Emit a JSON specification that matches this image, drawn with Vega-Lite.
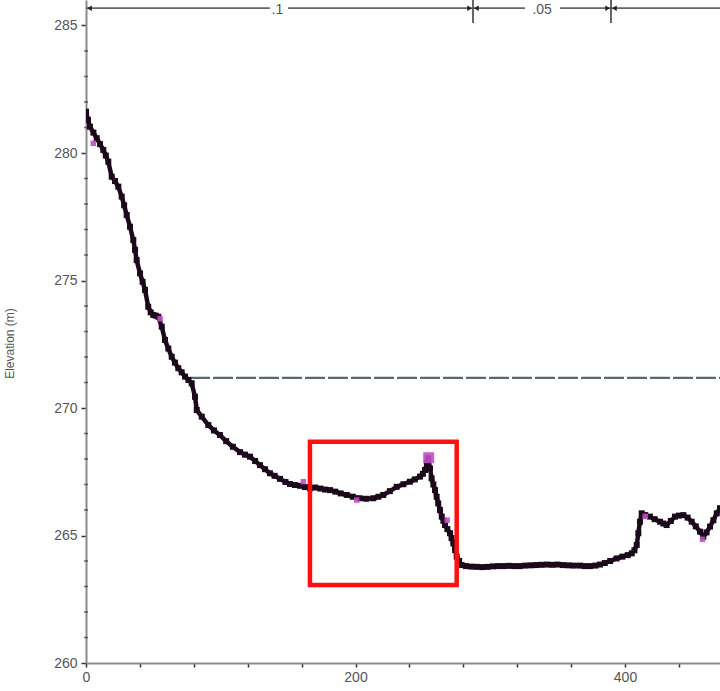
{
  "$schema": "https://vega.github.io/schema/vega-lite/v6.json",
  "width": 634,
  "height": 663,
  "autosize": {"type": "none"},
  "padding": {"left": 86, "top": 0, "right": 0, "bottom": 28},
  "background": "white",
  "config": {
    "view": {"stroke": null},
    "font": "Liberation Sans",
    "axis": {
      "grid": false,
      "domainColor": "#8c8c8c",
      "domainWidth": 2,
      "tickColor": "#333333",
      "tickWidth": 1.5,
      "labelColor": "#555555",
      "labelFont": "Liberation Sans",
      "labelFontSize": 14,
      "labelOverlap": false,
      "titleFont": "Liberation Sans",
      "titleColor": "#555555",
      "titleFontWeight": "normal"
    }
  },
  "datasets": {
    "profile": [
      {"dist": 0, "elev": 281.62}, {"dist": 1.5, "elev": 281.3}, {"dist": 2.97, "elev": 281.03}, {"dist": 5.5, "elev": 280.8},
      {"dist": 7.94, "elev": 280.58}, {"dist": 10.4, "elev": 280.35}, {"dist": 12.84, "elev": 280.12}, {"dist": 14.7, "elev": 279.9},
      {"dist": 16.55, "elev": 279.66}, {"dist": 19.07, "elev": 279.07}, {"dist": 21.5, "elev": 278.9}, {"dist": 23.97, "elev": 278.68},
      {"dist": 26.49, "elev": 278.29}, {"dist": 28.3, "elev": 277.95}, {"dist": 30.2, "elev": 277.57}, {"dist": 32.65, "elev": 277.11},
      {"dist": 35.1, "elev": 276.59}, {"dist": 36.4, "elev": 276.2}, {"dist": 37.6, "elev": 275.8}, {"dist": 40.1, "elev": 275.28},
      {"dist": 42, "elev": 274.95}, {"dist": 43.8, "elev": 274.63}, {"dist": 46.2, "elev": 273.97}, {"dist": 48, "elev": 273.75},
      {"dist": 49.9, "elev": 273.65}, {"dist": 51.8, "elev": 273.62}, {"dist": 53.7, "elev": 273.58}, {"dist": 56.2, "elev": 273.19},
      {"dist": 58.6, "elev": 272.67}, {"dist": 61.1, "elev": 272.33}, {"dist": 63.6, "elev": 272.01}, {"dist": 66, "elev": 271.78},
      {"dist": 68.5, "elev": 271.56}, {"dist": 71, "elev": 271.4}, {"dist": 73.5, "elev": 271.23}, {"dist": 76, "elev": 271.1},
      {"dist": 78.4, "elev": 270.97}, {"dist": 80.9, "elev": 270.44}, {"dist": 82.2, "elev": 269.92}, {"dist": 85.9, "elev": 269.66},
      {"dist": 90.8, "elev": 269.33}, {"dist": 95, "elev": 269.12}, {"dist": 99.4, "elev": 268.94}, {"dist": 104, "elev": 268.7},
      {"dist": 109, "elev": 268.48}, {"dist": 114.3, "elev": 268.27}, {"dist": 118, "elev": 268.17}, {"dist": 121.7, "elev": 268.09},
      {"dist": 125.5, "elev": 267.92}, {"dist": 129.1, "elev": 267.76}, {"dist": 132.8, "elev": 267.6}, {"dist": 136.5, "elev": 267.44},
      {"dist": 140, "elev": 267.34}, {"dist": 144, "elev": 267.22}, {"dist": 148, "elev": 267.1}, {"dist": 151.4, "elev": 267.02},
      {"dist": 155, "elev": 266.98}, {"dist": 158.8, "elev": 266.95}, {"dist": 162.5, "elev": 266.9}, {"dist": 166.2, "elev": 266.85},
      {"dist": 170, "elev": 266.88}, {"dist": 174, "elev": 266.84}, {"dist": 177.5, "elev": 266.8}, {"dist": 181.1, "elev": 266.78},
      {"dist": 185, "elev": 266.72}, {"dist": 189, "elev": 266.65}, {"dist": 193.5, "elev": 266.59}, {"dist": 198, "elev": 266.52},
      {"dist": 203.3, "elev": 266.46}, {"dist": 208, "elev": 266.44}, {"dist": 213.2, "elev": 266.46}, {"dist": 217, "elev": 266.52},
      {"dist": 220.6, "elev": 266.59}, {"dist": 225.5, "elev": 266.74}, {"dist": 230.6, "elev": 266.91}, {"dist": 235.5, "elev": 267.01},
      {"dist": 240.4, "elev": 267.11}, {"dist": 244, "elev": 267.2}, {"dist": 247.9, "elev": 267.31}, {"dist": 250, "elev": 267.42},
      {"dist": 251.6, "elev": 267.57}, {"dist": 253, "elev": 267.85}, {"dist": 254, "elev": 268.03}, {"dist": 255.3, "elev": 267.63},
      {"dist": 256.5, "elev": 267.24}, {"dist": 257.8, "elev": 267.0}, {"dist": 259, "elev": 266.78}, {"dist": 260.2, "elev": 266.52},
      {"dist": 261.4, "elev": 266.26}, {"dist": 262.7, "elev": 266.0}, {"dist": 264, "elev": 265.74}, {"dist": 265.2, "elev": 265.58},
      {"dist": 266.4, "elev": 265.41}, {"dist": 268.2, "elev": 265.25}, {"dist": 270.1, "elev": 265.09}, {"dist": 271.3, "elev": 264.9},
      {"dist": 272.6, "elev": 264.69}, {"dist": 273.9, "elev": 264.43}, {"dist": 275.1, "elev": 264.17}, {"dist": 276.9, "elev": 264.0},
      {"dist": 278.8, "elev": 263.84}, {"dist": 282, "elev": 263.8}, {"dist": 286, "elev": 263.78}, {"dist": 290, "elev": 263.77},
      {"dist": 294, "elev": 263.76}, {"dist": 298, "elev": 263.77}, {"dist": 302, "elev": 263.79}, {"dist": 306, "elev": 263.8},
      {"dist": 310, "elev": 263.8}, {"dist": 314, "elev": 263.81}, {"dist": 318, "elev": 263.8}, {"dist": 322, "elev": 263.8},
      {"dist": 326, "elev": 263.82}, {"dist": 330, "elev": 263.83}, {"dist": 334, "elev": 263.84}, {"dist": 338, "elev": 263.85},
      {"dist": 342, "elev": 263.86}, {"dist": 346, "elev": 263.85}, {"dist": 350, "elev": 263.86}, {"dist": 354, "elev": 263.84},
      {"dist": 358, "elev": 263.83}, {"dist": 362, "elev": 263.82}, {"dist": 366.6, "elev": 263.82}, {"dist": 370, "elev": 263.8},
      {"dist": 374, "elev": 263.8}, {"dist": 378, "elev": 263.82}, {"dist": 381.4, "elev": 263.86}, {"dist": 385, "elev": 263.92},
      {"dist": 389, "elev": 264.0}, {"dist": 393.8, "elev": 264.1}, {"dist": 398, "elev": 264.17}, {"dist": 402, "elev": 264.23},
      {"dist": 405, "elev": 264.3}, {"dist": 407, "elev": 264.42}, {"dist": 408.7, "elev": 264.63}, {"dist": 409.9, "elev": 265.09},
      {"dist": 411.1, "elev": 265.54}, {"dist": 412.4, "elev": 265.87}, {"dist": 415, "elev": 265.8}, {"dist": 418.5, "elev": 265.74},
      {"dist": 422, "elev": 265.64}, {"dist": 426, "elev": 265.54}, {"dist": 428.5, "elev": 265.47}, {"dist": 430.9, "elev": 265.41},
      {"dist": 434, "elev": 265.57}, {"dist": 437.1, "elev": 265.74}, {"dist": 440, "elev": 265.78}, {"dist": 443.3, "elev": 265.8},
      {"dist": 446.5, "elev": 265.7}, {"dist": 449.5, "elev": 265.54}, {"dist": 452.5, "elev": 265.36}, {"dist": 455.7, "elev": 265.15},
      {"dist": 458.1, "elev": 264.95}, {"dist": 460.5, "elev": 265.12}, {"dist": 463.1, "elev": 265.35}, {"dist": 465.6, "elev": 265.6},
      {"dist": 468.1, "elev": 265.87}, {"dist": 470.5, "elev": 266.07}
    ],
    "flags": [
      {"dist": 5.4, "elev": 280.38, "kind": "small"},
      {"dist": 55, "elev": 273.5, "kind": "small"},
      {"dist": 161.3, "elev": 267.11, "kind": "small"},
      {"dist": 200.9, "elev": 266.39, "kind": "small"},
      {"dist": 254.3, "elev": 268.05, "kind": "big"},
      {"dist": 268, "elev": 265.6, "kind": "small"},
      {"dist": 415, "elev": 265.75, "kind": "small"},
      {"dist": 457.5, "elev": 264.85, "kind": "small"}
    ],
    "minor_y": [
      {"v": 261}, {"v": 262}, {"v": 263}, {"v": 264}, {"v": 266}, {"v": 267}, {"v": 268}, {"v": 269},
      {"v": 271}, {"v": 272}, {"v": 273}, {"v": 274}, {"v": 276}, {"v": 277}, {"v": 278}, {"v": 279},
      {"v": 281}, {"v": 282}, {"v": 283}, {"v": 284}
    ],
    "topline": [
      {"x1": 0, "x2": 136.5}, {"x1": 149.9, "x2": 287.2},
      {"x1": 287.2, "x2": 325.8}, {"x1": 351.8, "x2": 389.6},
      {"x1": 389.6, "x2": 470.5}
    ],
    "dividers": [{"x": 287.2}, {"x": 389.6}],
    "arrows": [
      {"x": 2.6, "dir": "left"},
      {"x": 284.7, "dir": "right"}, {"x": 289.7, "dir": "left"},
      {"x": 387.1, "dir": "right"}, {"x": 392.1, "dir": "left"}
    ],
    "labels": [{"x": 142, "text": ".1"}, {"x": 338.5, "text": ".05"}],
    "level": [{"x1": 77.2, "x2": 470.5, "y": 271.18}],
    "box": [{"x1": 166.2, "x2": 275.1, "y1": 263.06, "y2": 268.68}]
  },
  "layer": [
    {
      "data": {"name": "level"},
      "mark": {"type": "rule", "color": "#5a6872", "strokeWidth": 2.2, "strokeDash": [20, 3]},
      "encoding": {
        "x": {"field": "x1", "type": "quantitative", "scale": {"domain": [0, 470.5], "nice": false, "zero": false},
          "axis": {"values": [0, 40, 80, 120, 160, 200, 240, 280, 320, 360, 400, 440], "labelExpr": "indexof([0, 200, 400], datum.value) >= 0 ? datum.label : ''",
            "tickSize": 4, "labelPadding": 3, "title": null, "labelFlush": false, "labelOverlap": false}},
        "x2": {"field": "x2"},
        "y": {"field": "y", "type": "quantitative", "scale": {"domain": [260, 286], "nice": false, "zero": false},
          "axis": {"values": [260, 265, 270, 275, 280, 285],
            "labelOverlap": false, "labelBound": false, "labelFlush": false,
            "tickSize": 5,
            "labelPadding": 4, "title": "Elevation (m)", "titleFontSize": 12, "titleX": -70, "titleY": 343, "titleAngle": -90, "titleBaseline": "bottom"}}
      }
    },
    {
      "data": {"name": "minor_y"},
      "mark": {"type": "tick", "orient": "horizontal", "color": "#333333", "size": 4, "thickness": 1.5, "clip": false},
      "encoding": {
        "x": {"datum": 0, "type": "quantitative"},
        "y": {"field": "v", "type": "quantitative"}
      }
    },
    {
      "data": {"name": "profile"},
      "mark": {"type": "line", "color": "#1c0a1c", "strokeWidth": 4.5, "clip": true, "strokeJoin": "round"},
      "encoding": {
        "x": {"field": "dist", "type": "quantitative"},
        "y": {"field": "elev", "type": "quantitative"}
      }
    },
    {
      "data": {"name": "profile"},
      "mark": {"type": "point", "shape": "square", "filled": true, "color": "#1c0a1c", "size": 36, "opacity": 1, "clip": true},
      "encoding": {
        "x": {"field": "dist", "type": "quantitative"},
        "y": {"field": "elev", "type": "quantitative"}
      }
    },
    {
      "data": {"name": "flags"},
      "mark": {"type": "point", "shape": "square", "filled": true, "color": "#c24ec4", "opacity": 0.9, "clip": true},
      "encoding": {
        "x": {"field": "dist", "type": "quantitative"},
        "y": {"field": "elev", "type": "quantitative"},
        "size": {"field": "kind", "type": "nominal", "scale": {"domain": ["small", "big"], "range": [30, 120]}, "legend": null}
      }
    },
    {
      "data": {"name": "box"},
      "mark": {"type": "rect", "fill": null, "stroke": "#ff1010", "strokeWidth": 4.5},
      "encoding": {
        "x": {"field": "x1", "type": "quantitative"},
        "x2": {"field": "x2"},
        "y": {"field": "y1", "type": "quantitative"},
        "y2": {"field": "y2"}
      }
    },
    {
      "data": {"name": "topline"},
      "mark": {"type": "rule", "color": "#666666", "strokeWidth": 1.8},
      "encoding": {
        "x": {"field": "x1", "type": "quantitative"},
        "x2": {"field": "x2"},
        "y": {"datum": 285.68, "type": "quantitative"}
      }
    },
    {
      "data": {"name": "dividers"},
      "mark": {"type": "rule", "color": "#555555", "strokeWidth": 1.8},
      "encoding": {
        "x": {"field": "x", "type": "quantitative"},
        "y": {"datum": 286, "type": "quantitative"},
        "y2": {"datum": 285.1}
      }
    },
    {
      "data": {"name": "arrows"},
      "mark": {"type": "point", "filled": true, "color": "#222222", "size": 30, "opacity": 1},
      "encoding": {
        "x": {"field": "x", "type": "quantitative"},
        "y": {"datum": 285.68, "type": "quantitative"},
        "shape": {"field": "dir", "type": "nominal", "scale": {"domain": ["left", "right"], "range": ["triangle-left", "triangle-right"]}, "legend": null}
      }
    },
    {
      "data": {"name": "labels"},
      "mark": {"type": "text", "color": "#555555", "fontSize": 14, "baseline": "middle", "align": "center"},
      "encoding": {
        "x": {"field": "x", "type": "quantitative"},
        "y": {"datum": 285.62, "type": "quantitative"},
        "text": {"field": "text"}
      }
    }
  ]
}
